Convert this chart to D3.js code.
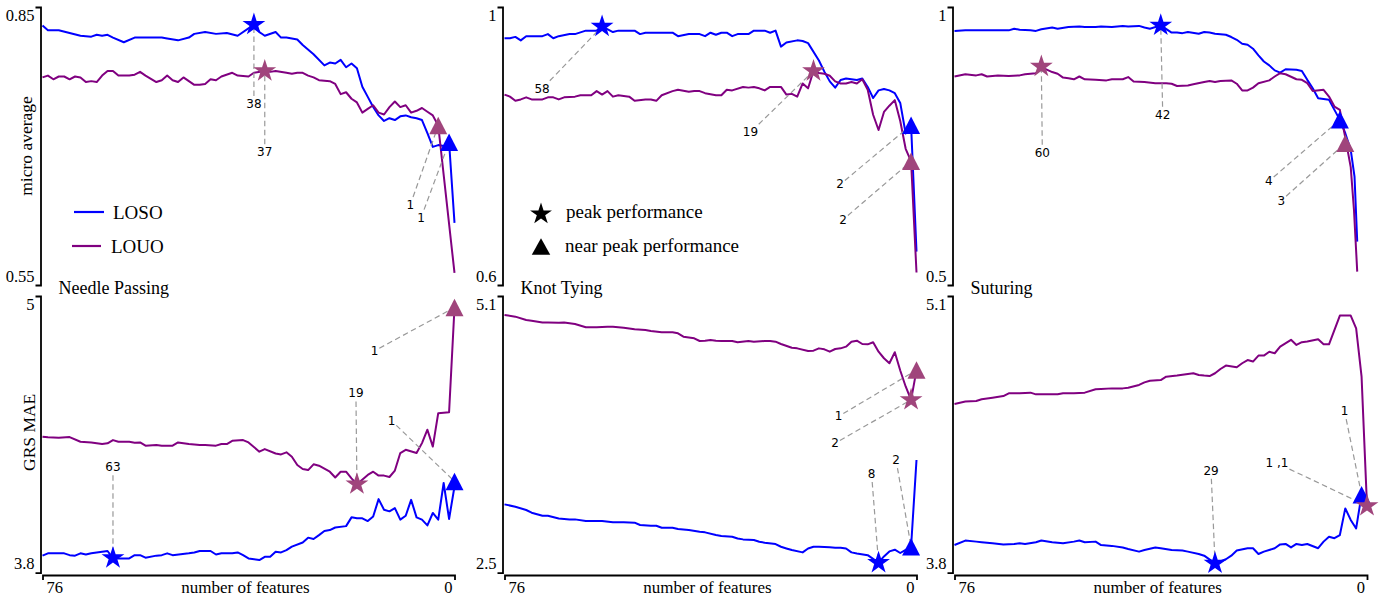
<!DOCTYPE html>
<html>
<head>
<meta charset="utf-8">
<title>Feature elimination</title>
<script src="https://cdn.jsdelivr.net/npm/d3@7"></script>
<style>
  body { margin: 0; background: #fff; }
  svg { display: block; }
</style>
</head>
<body>
<div id="chart"></div>
<script>

// ---- data ----
var tasks = ["Needle Passing", "Knot Tying", "Suturing"];
var metrics = ["micro average", "GRS MAE"];
var featureTicks = [76, 0];
var microTicks = [[0.85, 0.55], [1, 0.6], [1, 0.5]];
var maeTicks = [[5, 3.8], [5.1, 2.5], [5.1, 3.8]];
var seriesNames = ["LOSO", "LOUO"];
var markerNames = ["peak performance", "near peak performance"];

// [number of features, value]
var npMicroLoso = [[76,.830],[75,.825],[73,.825],[71,.822],[69,.819],[67,.818],[66,.820],[65,.819],[64,.820],[63,.817],[61,.812],[59,.817],[57,.817],[54,.817],[53,.816],[51,.814],[49,.817],[48,.821],[46,.823],[44,.821],[42,.822],[40,.819],[37,.831],[36,.823],[35,.819],[33,.823],[32,.817],[31,.817],[29,.815],[28,.809],[26,.799],[24,.787],[23,.790],[22,.789],[21,.793],[20,.785],[19,.789],[18,.784],[17,.764],[16,.753],[15,.742],[14,.733],[13,.727],[12,.730],[11,.728],[10,.732],[9,.733],[8,.731],[7,.730],[6,.728],[5,.714],[4,.699],[3,.701],[2,.700],[1,.704],[0,.617]];
var npMicroLouo = [[76,.774],[75,.776],[74,.772],[73,.775],[72,.775],[71,.772],[70,.775],[69,.774],[68,.769],[67,.770],[66,.769],[65,.776],[64,.781],[63,.781],[62,.776],[60,.776],[59,.777],[58,.780],[57,.776],[55,.769],[54,.771],[53,.776],[52,.771],[51,.769],[50,.774],[48,.766],[47,.766],[46,.767],[45,.772],[44,.771],[43,.775],[41,.779],[40,.776],[38,.775],[37,.779],[35,.781],[34,.780],[33,.781],[31,.779],[30,.778],[29,.779],[28,.779],[27,.776],[26,.774],[25,.771],[23,.770],[22,.767],[21,.756],[20,.758],[19,.751],[18,.747],[17,.736],[16,.740],[15,.744],[14,.736],[13,.734],[12,.742],[11,.748],[10,.742],[9,.744],[8,.736],[7,.738],[6,.741],[5,.737],[4,.733],[3,.722],[0,.563]];

var ktMicroLoso = [[76,.955],[75,.955],[74,.957],[73,.952],[72,.958],[70,.958],[69,.958],[68,.961],[67,.955],[66,.958],[64,.961],[63,.961],[61,.966],[59,.966],[58,.972],[56,.964],[55,.966],[54,.966],[52,.966],[51,.961],[50,.963],[48,.963],[45,.963],[44,.958],[42,.961],[40,.961],[39,.958],[38,.963],[37,.960],[36,.963],[35,.963],[34,.958],[33,.961],[31,.961],[30,.966],[28,.966],[27,.963],[26,.966],[25,.943],[24,.949],[22,.952],[21,.951],[20,.948],[18,.923],[17,.907],[16,.893],[15,.884],[14,.895],[13,.897],[12,.896],[11,.895],[10,.897],[9,.885],[8,.869],[7,.880],[6,.882],[5,.880],[4,.876],[3,.862],[2,.818],[1,.830],[0,.648]];
var ktMicroLouo = [[76,.874],[75,.871],[74,.865],[73,.867],[72,.870],[71,.867],[69,.867],[68,.870],[67,.870],[66,.867],[65,.870],[63,.871],[62,.873],[61,.873],[60,.873],[59,.879],[58,.874],[57,.879],[56,.871],[55,.873],[53,.871],[52,.865],[50,.867],[49,.867],[48,.865],[47,.873],[45,.879],[44,.881],[42,.878],[41,.879],[40,.879],[39,.876],[37,.873],[36,.873],[35,.881],[34,.880],[32,.885],[31,.884],[30,.885],[29,.883],[28,.880],[27,.885],[25,.885],[24,.874],[23,.875],[22,.871],[21,.890],[20,.883],[19,.908],[18,.905],[17,.904],[16,.901],[15,.893],[14,.890],[13,.890],[12,.892],[11,.890],[10,.896],[9,.881],[8,.845],[7,.823],[6,.849],[5,.858],[4,.866],[3,.836],[2,.796],[1,.778],[0,.618]];

var suMicroLoso = [[76,.957],[74,.958],[72,.958],[71,.958],[68,.958],[66,.958],[65,.961],[64,.959],[62,.958],[61,.957],[60,.960],[58,.963],[57,.961],[55,.964],[53,.965],[52,.964],[50,.964],[49,.965],[47,.964],[45,.966],[44,.965],[42,.966],[41,.963],[40,.961],[38,.967],[36,.954],[35,.954],[34,.953],[33,.955],[31,.952],[30,.955],[29,.954],[28,.952],[26,.950],[25,.946],[24,.941],[23,.934],[22,.932],[21,.925],[20,.913],[19,.902],[18,.895],[17,.886],[16,.882],[15,.888],[13,.887],[12,.885],[11,.869],[10,.854],[9,.836],[7,.833],[6,.815],[5,.797],[4,.773],[3,.743],[2.3,.695],[1.8,.578]];
var suMicroLouo = [[76,.875],[74,.879],[72,.877],[71,.879],[70,.875],[68,.877],[66,.876],[64,.877],[63,.879],[61,.881],[60,.892],[58,.883],[57,.880],[56,.873],[55,.872],[54,.870],[53,.875],[52,.870],[50,.869],[48,.868],[47,.870],[45,.870],[44,.874],[43,.866],[41,.865],[39,.863],[37,.863],[36,.862],[35,.858],[33,.859],[32,.861],[30,.865],[29,.867],[28,.865],[27,.867],[25,.868],[24,.862],[23,.850],[22,.850],[21,.855],[20,.863],[18,.868],[17,.875],[16,.881],[15,.879],[13,.870],[12,.869],[11,.863],[10,.849],[8,.851],[7,.839],[6,.821],[5,.815],[4,.765],[3,.712],[2.4,.635],[1.8,.524]];

var npMaeLoso = [[76,3.874],[75,3.884],[73,3.884],[72,3.884],[71,3.876],[70,3.874],[69,3.884],[68,3.879],[67,3.884],[65,3.891],[64,3.894],[63,3.862],[61,3.862],[60,3.862],[59,3.876],[58,3.876],[57,3.865],[55,3.874],[54,3.876],[53,3.884],[52,3.876],[49,3.884],[48,3.888],[47,3.894],[45,3.894],[44,3.879],[43,3.884],[42,3.884],[41,3.884],[40,3.888],[39,3.876],[38,3.862],[36,3.855],[35,3.869],[34,3.869],[33,3.891],[32,3.888],[31,3.898],[30,3.913],[28,3.931],[27,3.952],[26,3.946],[25,3.963],[24,3.981],[23,3.985],[22,3.996],[20,4.002],[19,4.040],[18,4.036],[17,4.036],[16,4.024],[15,4.044],[14,4.119],[13,4.073],[12,4.066],[11,4.080],[10,4.030],[9,4.047],[8,4.116],[7,4.040],[6,4.030],[5,4.005],[4,4.059],[3,4.030],[2,4.189],[1,4.033],[0,4.174]];
var npMaeLouo = [[76,4.390],[75,4.387],[73,4.385],[71,4.388],[69,4.368],[67,4.365],[65,4.358],[64,4.361],[63,4.375],[62,4.368],[60,4.368],[59,4.364],[58,4.365],[57,4.351],[55,4.354],[54,4.351],[52,4.351],[51,4.365],[49,4.358],[47,4.354],[46,4.354],[44,4.351],[43,4.358],[42,4.358],[41,4.372],[39,4.375],[38,4.365],[36,4.325],[35,4.336],[33,4.317],[32,4.313],[31,4.322],[30,4.303],[29,4.267],[28,4.250],[27,4.245],[26,4.270],[25,4.264],[23,4.238],[22,4.213],[21,4.238],[20,4.238],[19,4.209],[18,4.184],[16,4.224],[15,4.238],[14,4.221],[13,4.221],[12,4.215],[11,4.243],[10,4.319],[9,4.333],[7,4.319],[6,4.362],[5,4.420],[4,4.347],[3,4.492],[1,4.496],[0,4.95]];

var ktMaeLoso = [[76,3.142],[74,3.120],[72,3.089],[71,3.064],[69,3.035],[68,3.035],[66,3.010],[64,3.001],[63,3.001],[61,2.985],[59,2.985],[58,2.985],[56,2.973],[54,2.973],[52,2.970],[51,2.948],[49,2.941],[48,2.941],[47,2.922],[45,2.922],[44,2.910],[42,2.901],[40,2.885],[39,2.879],[37,2.854],[36,2.844],[34,2.838],[33,2.822],[32,2.813],[30,2.807],[29,2.791],[28,2.782],[26,2.769],[25,2.744],[24,2.728],[23,2.713],[21,2.691],[20,2.728],[19,2.744],[18,2.744],[16,2.738],[15,2.735],[14,2.735],[13,2.728],[12,2.691],[11,2.681],[9,2.665],[8,2.630],[7,2.594],[6,2.653],[5,2.700],[4,2.716],[3,2.685],[2,2.715],[1,2.744],[0,3.559]];
var ktMaeLouo = [[76,4.921],[74,4.906],[72,4.874],[71,4.868],[69,4.852],[68,4.852],[66,4.849],[65,4.852],[63,4.837],[61,4.806],[59,4.806],[57,4.812],[56,4.812],[54,4.802],[52,4.787],[50,4.780],[49,4.771],[47,4.759],[45,4.759],[44,4.749],[43,4.718],[41,4.702],[40,4.677],[39,4.680],[38,4.686],[37,4.680],[36,4.677],[34,4.677],[33,4.665],[31,4.677],[30,4.671],[28,4.677],[27,4.677],[26,4.671],[25,4.649],[23,4.614],[22,4.608],[20,4.583],[19,4.586],[18,4.608],[17,4.599],[16,4.577],[15,4.602],[14,4.608],[13,4.624],[12,4.671],[11,4.680],[10,4.649],[9,4.646],[8,4.665],[7,4.577],[6,4.515],[5,4.468],[4,4.572],[3,4.400],[2,4.250],[1,4.124],[0,4.404]];

var suMaeLoso = [[76,3.930],[74,3.951],[72,3.946],[71,3.943],[69,3.938],[67,3.933],[65,3.935],[64,3.938],[63,3.935],[61,3.943],[60,3.951],[58,3.943],[56,3.938],[54,3.946],[53,3.951],[52,3.943],[50,3.946],[49,3.930],[47,3.926],[45,3.918],[44,3.911],[42,3.899],[41,3.907],[39,3.918],[38,3.915],[36,3.907],[34,3.904],[33,3.899],[31,3.888],[30,3.880],[28,3.844],[26,3.863],[25,3.880],[24,3.904],[22,3.915],[21,3.915],[20,3.888],[19,3.899],[17,3.915],[16,3.933],[15,3.935],[14,3.919],[13,3.935],[12,3.930],[11,3.935],[9,3.915],[8,3.946],[7,3.969],[6,3.962],[5,3.977],[4,4.102],[3,4.048],[2,4.008],[1,4.166]];
var suMaeLouo = [[76,4.593],[74,4.604],[72,4.607],[71,4.615],[69,4.622],[67,4.630],[66,4.643],[64,4.643],[62,4.646],[61,4.638],[59,4.638],[57,4.638],[56,4.643],[54,4.643],[52,4.646],[50,4.662],[49,4.663],[47,4.666],[45,4.666],[44,4.669],[42,4.682],[41,4.694],[40,4.702],[38,4.705],[37,4.721],[35,4.726],[33,4.734],[32,4.737],[31,4.729],[30,4.726],[29,4.724],[28,4.737],[27,4.757],[26,4.773],[24,4.765],[23,4.784],[22,4.799],[21,4.792],[20,4.820],[19,4.820],[18,4.838],[17,4.831],[16,4.862],[14,4.894],[13,4.870],[12,4.883],[11,4.886],[9,4.897],[8,4.873],[7,4.873],[5,5.008],[4,5.008],[3,5.008],[2,4.948],[1,4.721],[0,4.114]];

// peak / near-peak markers: [series, shape, number of features, value, label]
var npMicroMarks = [["LOSO","star",37,.831,"38"],["LOUO","star",35,.781,"37"],["LOUO","tri",3,.722,"1"],["LOSO","tri",1,.704,"1"]];
var ktMicroMarks = [["LOSO","star",58,.972,"58"],["LOUO","star",19,.908,"19"],["LOSO","tri",1,.830,"2"],["LOUO","tri",1,.778,"2"]];
var suMicroMarks = [["LOSO","star",38,.967,"42"],["LOUO","star",60,.893,"60"],["LOSO","tri",5,.797,"4"],["LOUO","tri",4,.755,"3"]];
var npMaeMarks = [["LOSO","star",63,3.864,"63"],["LOUO","star",18,4.184,"19"],["LOUO","tri",0,4.95,"1"],["LOSO","tri",0,4.196,"1"]];
var ktMaeMarks = [["LOUO","tri",0,4.404,"1"],["LOUO","star",1,4.124,"2"],["LOSO","star",7,2.594,"8"],["LOSO","tri",1,2.744,"2"]];
var suMaeMarks = [["LOSO","star",28,3.844,"29"],["LOSO","tri",1,4.166,"1"],["LOUO","star",0,4.114,"1 ,1"]];

// ---- layout ----
var width = 1393, height = 599;
var colX = [[42.5, 454.5], [504.5, 916.5], [954.5, 1367]];
var rowY = [[285, 7], [572.7, 296]];
var xAxisY = 575;

// label offsets (px) from each marker, same order as the mark arrays
var labelOffsets = [
  [[[0,79],[0,81],[-28,79],[-28,75]], [[-60,62],[-63,61],[-71,59],[-68,58]], [[2,89],[1,86],[-71,61],[-64,57]]],
  [[[0,-91],[-1,-91],[-80,43],[-63,-61]], [[-78,46],[-76,43],[-7,-89],[-15,-87]], [[-4,-93],[-17,-84],[-90,-43]]]
];

var lineColor = {LOSO: "#0000ff", LOUO: "#800080"};
var markColor = {LOSO: "#0000ff", LOUO: "#a0457c"};
var serif = "'Liberation Serif', 'Times New Roman', serif";
var sans = "'DejaVu Sans', sans-serif";

var rows = [
  {ticks: microTicks, loso: [npMicroLoso, ktMicroLoso, suMicroLoso], louo: [npMicroLouo, ktMicroLouo, suMicroLouo], marks: [npMicroMarks, ktMicroMarks, suMicroMarks]},
  {ticks: maeTicks, loso: [npMaeLoso, ktMaeLoso, suMaeLoso], louo: [npMaeLouo, ktMaeLouo, suMaeLouo], marks: [npMaeMarks, ktMaeMarks, suMaeMarks]}
];

var svg = d3.select("#chart").append("svg")
    .attr("width", width)
    .attr("height", height)
    .style("background", "#fff");

function starPath(r) {
  return d3.symbol(d3.symbolStar, r * r / 0.8908130915292852)();
}
function triPath(w, h) {
  return "M0," + (-h / 2) + "L" + (w / 2) + "," + (h / 2) + "L" + (-w / 2) + "," + (h / 2) + "Z";
}
function styleAxis(a) {
  a.select(".domain").attr("stroke", "#000").attr("stroke-width", 1.8);
  a.selectAll(".tick line").remove();
  a.selectAll(".tick text").attr("fill", "#000").style("font-family", serif).style("font-size", "16.5px");
}

rows.forEach(function(row, r) {
  tasks.forEach(function(task, c) {
    var t = row.ticks[c];
    var x = d3.scaleLinear().domain([76, 0]).range(colX[c]);
    var y = d3.scaleLinear().domain([t[1], t[0]]).range(rowY[r]);
    var g = svg.append("g");

    // y axis (bracket style)
    var ya = g.append("g")
        .attr("transform", "translate(" + (colX[c][0] - 2) + ",0)")
        .call(d3.axisLeft(y).tickValues(t).tickSizeInner(0).tickSizeOuter(5).tickPadding(6).tickFormat(String));
    styleAxis(ya);
    ya.selectAll(".tick text")
        .attr("dy", null)
        .attr("y", function(d, i) { return i === 0 ? 13 : -4; });

    // x axis only on the bottom row
    if (r === 1) {
      var xa = g.append("g")
          .attr("transform", "translate(0," + xAxisY + ")")
          .call(d3.axisBottom(x).tickValues(featureTicks).tickSizeInner(0).tickSizeOuter(5).tickFormat(String));
      styleAxis(xa);
      xa.selectAll(".tick text")
          .attr("dy", null)
          .attr("y", 18)
          .attr("x", function(d, i) { return i === 0 ? 3.5 : -2.5; })
          .attr("text-anchor", function(d, i) { return i === 0 ? "start" : "end"; });
      g.append("text")
          .attr("x", (colX[c][0] + colX[c][1]) / 2 - 3)
          .attr("y", 593)
          .attr("text-anchor", "middle")
          .style("font-family", serif)
          .style("font-size", "17px")
          .text("number of features");
    }

    // lines
    var line = d3.line().x(function(d) { return x(d[0]); }).y(function(d) { return y(d[1]); });
    [["LOSO", row.loso[c]], ["LOUO", row.louo[c]]].forEach(function(s) {
      g.append("path")
          .datum(s[1])
          .attr("d", line)
          .attr("fill", "none")
          .attr("stroke", lineColor[s[0]])
          .attr("stroke-width", 2)
          .attr("stroke-linejoin", "round");
    });

    // annotations: dashed leader + label
    var marks = row.marks[c], offs = labelOffsets[r][c];
    var leaders = g.append("g"), labels = g.append("g");
    marks.forEach(function(m, i) {
      var px = x(m[2]), py = y(m[3]);
      var lx = px + offs[i][0], ly = py + offs[i][1];
      var txt = labels.append("text")
          .attr("x", lx)
          .attr("y", ly)
          .attr("dy", "0.36em")
          .attr("text-anchor", "middle")
          .style("font-family", sans)
          .style("font-size", "12px")
          .attr("fill", "#000")
          .text(m[4]);
      var bb = txt.node().getBBox();
      var cx = bb.x + bb.width / 2, cy = bb.y + bb.height / 2;
      var dx = px - cx, dy = py - cy;
      var hw = bb.width / 2 + 1, hh = bb.height / 2 + 1;
      var k = Math.min(dx ? hw / Math.abs(dx) : Infinity, dy ? hh / Math.abs(dy) : Infinity);
      leaders.append("line")
          .attr("x1", cx + dx * k).attr("y1", cy + dy * k)
          .attr("x2", px).attr("y2", py)
          .attr("stroke", "#999")
          .attr("stroke-width", 1.2)
          .attr("stroke-dasharray", "5.5,3.5");
    });

    // markers
    marks.forEach(function(m) {
      g.append("path")
          .attr("d", m[1] === "star" ? starPath(12) : triPath(18, 17.5))
          .attr("transform", "translate(" + x(m[2]) + "," + y(m[3]) + ")")
          .attr("fill", markColor[m[0]]);
    });

    // panel title sits between the rows
    if (r === 0) {
      g.append("text")
          .attr("x", colX[c][0] + 16)
          .attr("y", 294)
          .style("font-family", serif)
          .style("font-size", "18px")
          .text(task);
    }
  });
});

// y labels
svg.append("text")
    .attr("transform", "translate(32," + ((rowY[0][0] + rowY[0][1]) / 2) + ") rotate(-90)")
    .attr("text-anchor", "middle")
    .style("font-family", serif)
    .style("font-size", "17.5px")
    .text(metrics[0]);
svg.append("text")
    .attr("transform", "translate(35," + ((rowY[1][0] + rowY[1][1]) / 2 - 2) + ") rotate(-90)")
    .attr("text-anchor", "middle")
    .style("font-family", serif)
    .style("font-size", "17.5px")
    .text(metrics[1]);

// series legend (first panel)
var leg1 = svg.append("g");
[[74, 104, 113, 212], [72, 101, 111, 246]].forEach(function(p, i) {
  leg1.append("line")
      .attr("x1", p[0]).attr("x2", p[1]).attr("y1", p[3]).attr("y2", p[3])
      .attr("stroke", lineColor[seriesNames[i]])
      .attr("stroke-width", 2.2);
  leg1.append("text")
      .attr("x", p[2]).attr("y", p[3] + 7)
      .style("font-family", serif)
      .style("font-size", "19px")
      .text(seriesNames[i]);
});

// marker legend (second panel)
var leg2 = svg.append("g");
leg2.append("path").attr("d", starPath(11.5)).attr("transform", "translate(541,214)").attr("fill", "#000");
leg2.append("path").attr("d", triPath(18.5, 16.5)).attr("transform", "translate(541,246.5)").attr("fill", "#000");
leg2.append("text").attr("x", 566).attr("y", 218)
    .style("font-family", serif).style("font-size", "19px").text(markerNames[0]);
leg2.append("text").attr("x", 565).attr("y", 252)
    .style("font-family", serif).style("font-size", "19px").text(markerNames[1]);

</script>
</body>
</html>
